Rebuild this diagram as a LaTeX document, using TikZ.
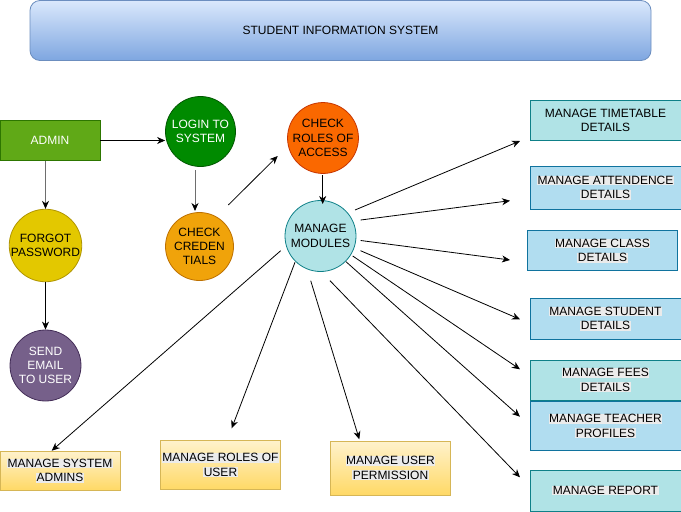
\documentclass[tikz,border=0pt]{standalone}
\usepackage{fontspec}
\setmainfont{Liberation Sans}
\usetikzlibrary{arrows.meta,shapes.geometric}

\definecolor{titletop}{HTML}{DAE8FC}
\definecolor{titlebot}{HTML}{7EA6E0}
\definecolor{titleline}{HTML}{6C8EBF}
\definecolor{adminfill}{HTML}{60A917}
\definecolor{adminline}{HTML}{2D7600}
\definecolor{loginfill}{HTML}{008A00}
\definecolor{loginline}{HTML}{005700}
\definecolor{forgotfill}{HTML}{E3C800}
\definecolor{forgotline}{HTML}{B09500}
\definecolor{credfill}{HTML}{F0A30A}
\definecolor{credline}{HTML}{BD7000}
\definecolor{rolesfill}{HTML}{FA6800}
\definecolor{rolesline}{HTML}{C73500}
\definecolor{mailfill}{HTML}{76608A}
\definecolor{mailline}{HTML}{432D57}
\definecolor{tealfill}{HTML}{B0E3E6}
\definecolor{tealline}{HTML}{0E8088}
\definecolor{bluefill}{HTML}{B1DDF0}
\definecolor{blueline}{HTML}{10739E}
\definecolor{ytop}{HTML}{FFF2CC}
\definecolor{ybot}{HTML}{FFD966}
\definecolor{yline}{HTML}{D6B656}
\definecolor{hlgray}{HTML}{EBEBEB}
\definecolor{greyline}{HTML}{6E6E6E}

% light grey band behind a line of label text
\newcommand\hlt[1]{{\setlength{\fboxsep}{0.6pt}\colorbox{hlgray}{#1}}}

\begin{document}
\begin{tikzpicture}[x=1pt,y=-1pt,
  font=\fontsize{12}{14.3}\selectfont,
  every node/.style={align=center},
  circ/.style={circle,inner sep=0pt,line width=0.8pt},
  rbox/.style={rectangle,inner sep=0pt,line width=0.9pt,minimum width=150pt,minimum height=40pt},
  tealbox/.style={rbox,fill=tealfill,draw=tealline},
  bluebox/.style={rbox,fill=bluefill,draw=blueline},
  ybox/.style={rectangle,inner sep=0pt,line width=0.8pt,minimum width=120pt,
    top color=ytop,bottom color=ybot,draw=yline},
  arr/.style={line width=0.8pt,-{Stealth[length=8pt,width=7pt,inset=2.5pt]}},
  garr/.style={line width=1pt,draw=greyline,-{Stealth[length=8pt,width=7pt,inset=2.5pt,color=black]}}]

\useasboundingbox (0,0) rectangle (681,512);

% title banner
\node[rectangle,rounded corners=10pt,minimum width=621pt,minimum height=60pt,
  top color=titletop,bottom color=titlebot,draw=titleline,line width=0.8pt]
  (title) at (340.5,30.5) {STUDENT INFORMATION SYSTEM};

% login flow
\node[rectangle,minimum width=100pt,minimum height=40pt,inner sep=0pt,
  fill=adminfill,draw=adminline,line width=0.8pt,text=white] (admin) at (50,140.5) {ADMIN};
\node[circ,minimum size=70pt,fill=loginfill,draw=loginline,text=white] (login) at (200.5,131.5) {LOGIN TO\\SYSTEM};
\node[circ,minimum size=70pt,fill=forgotfill,draw=forgotline] (forgot) at (45.5,245.5) {FORGOT\\PASSWORD};
\node[circ,minimum size=68pt,fill=credfill,draw=credline] (cred) at (199.5,246.5) {CHECK\\CREDEN\\TIALS};
\node[circ,minimum size=66pt,fill=rolesfill,draw=rolesline] (roles) at (323,138) {CHECK\\ROLES OF\\ACCESS};
\node[circ,minimum size=71pt,fill=tealfill,draw=tealline] (mm) at (320.5,236) {MANAGE\\MODULES};
\node[circ,minimum size=71pt,fill=mailfill,draw=mailline,text=white] (mail) at (45.5,365.5) {SEND\\EMAIL\\TO USER};

% module boxes on the right
\node[tealbox,minimum width=151pt] (tt) at (605.5,120.5) {MANAGE TIMETABLE\\DETAILS};
\node[bluebox,minimum width=151pt,minimum height=43pt] (att) at (605.5,187.5) {\hlt{MANAGE ATTENDENCE}\\\hlt{DETAILS}};
\node[bluebox,minimum width=150pt] (cls) at (602.5,250.5) {\hlt{MANAGE CLASS}\\\hlt{DETAILS}};
\node[bluebox,minimum width=151pt,minimum height=41pt] (stu) at (605.5,318.5) {\hlt{MANAGE STUDENT}\\\hlt{DETAILS}};
\node[tealbox,minimum width=151pt] (fee) at (605.5,380) {\hlt{MANAGE FEES}\\\hlt{DETAILS}};
\node[bluebox,minimum width=151pt,minimum height=49pt] (tea) at (605.5,426) {\hlt{MANAGE TEACHER}\\\hlt{PROFILES}};
\node[tealbox,minimum width=151pt,minimum height=41pt] (rep) at (605.5,490.5) {\hlt{MANAGE REPORT}};

% module boxes along the bottom
\node[ybox,minimum height=39pt] (sysad) at (60,470.5) {\hlt{MANAGE SYSTEM}\\\hlt{ADMINS}};
\node[ybox,minimum height=49pt] (rou) at (220.5,465) {\hlt{MANAGE ROLES OF}\\\hlt{USER}};
\node[ybox,minimum height=54pt] (perm) at (390.5,468) {\hlt{MANAGE USER}\\\hlt{PERMISSION}};

% loose connector ends
\coordinate (credA) at (228.3,205);
\coordinate (credB) at (277.7,156);
\coordinate (rolesA) at (322.7,175);
\coordinate (rolesB) at (322.7,204);
\coordinate (loginA) at (195,170);
\coordinate (loginB) at (195,211);
\coordinate (mmTT) at (355,210);     \coordinate (ttIn) at (520,141);
\coordinate (mmAT) at (360.7,220);   \coordinate (atIn) at (510,200.7);
\coordinate (mmCL) at (360.7,240.5); \coordinate (clIn) at (510,260);
\coordinate (mmST) at (360.5,250.7); \coordinate (stIn) at (520,319.3);
\coordinate (mmFE) at (352.7,256);   \coordinate (feIn) at (520,369.3);
\coordinate (mmTE) at (346,261.7);   \coordinate (teIn) at (520,416.7);
\coordinate (mmRE) at (330,280.7);   \coordinate (reIn) at (520,477.3);
\coordinate (mmSA) at (280.7,250.7); \coordinate (saIn) at (51.7,450.7);
\coordinate (mmRU) at (295,262.3);   \coordinate (ruIn) at (231.7,428.3);
\coordinate (mmPE) at (310.7,280.7); \coordinate (peIn) at (359.3,439.3);

% connectors of the login flow
\draw[arr] (admin.east) -- (admin -| login.west);
\draw[garr] (forgot.north |- admin.south) -- (forgot.north);
\draw[arr] (forgot.south) -- (mail.north);
\draw[garr] (loginA) -- (loginB);
\draw[arr] (credA) -- (credB);
\draw[arr] (rolesA) -- (rolesB);

% connectors leaving MANAGE MODULES
\draw[arr] (mmTT) -- (ttIn);
\draw[arr] (mmAT) -- (atIn);
\draw[arr] (mmCL) -- (clIn);
\draw[arr] (mmST) -- (stIn);
\draw[arr] (mmFE) -- (feIn);
\draw[arr] (mmTE) -- (teIn);
\draw[arr] (mmRE) -- (reIn);
\draw[arr] (mmSA) -- (saIn);
\draw[arr] (mmRU) -- (ruIn);
\draw[arr] (mmPE) -- (peIn);
\end{tikzpicture}
\end{document}
